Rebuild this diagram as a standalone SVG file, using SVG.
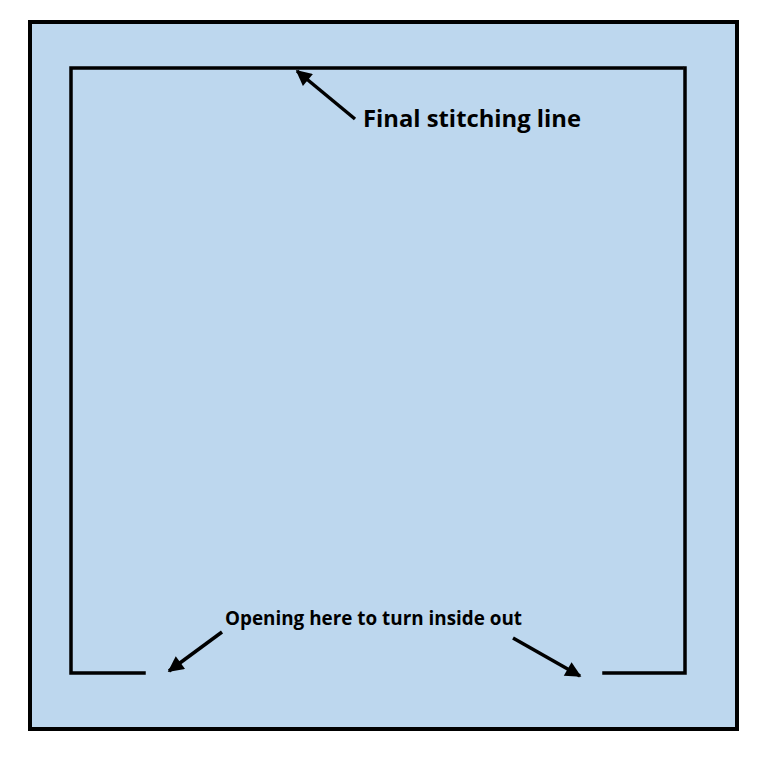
<svg xmlns="http://www.w3.org/2000/svg" width="766" height="761" viewBox="0 0 766 761">
<style>
.seam{fill:none;stroke:#000;stroke-width:3.5;stroke-linecap:square}
.arr{fill:none;stroke:#000;stroke-width:3.5;marker-end:url(#ah)}
.lbl{font-family:"Open Sans","Liberation Sans",sans-serif;font-weight:bold;fill:#000}
</style>
<defs>
<marker id="ah" viewBox="0 0 10 10" refX="9" refY="5" markerWidth="5" markerHeight="4.5" orient="auto" markerUnits="strokeWidth">
<path d="M0,0 L10,5 L0,10 Z" fill="#000"/>
</marker>
</defs>
<rect x="0" y="0" width="766" height="761" fill="#fff"/>
<g id="panel">
<rect x="30" y="22" width="707" height="707" fill="#BDD7EE" stroke="#000" stroke-width="4"/>
</g>
<g id="stitching">
<polyline class="seam" points="144,673 71,673 71,68 682,68"/>
<polyline class="seam" points="685,68 685,673 604,673"/>
</g>
<g id="connectors">
<line class="arr" x1="355" y1="119" x2="297" y2="71"/>
<line class="arr" x1="222" y1="632" x2="169" y2="671"/>
<line class="arr" x1="513" y1="638" x2="580" y2="676"/>
</g>
<g id="label-top">
<text class="lbl" x="363" y="127" font-size="23" textLength="218" lengthAdjust="spacingAndGlyphs">Final stitching line</text>
</g>
<g id="label-bottom">
<text class="lbl" x="225" y="625" font-size="19.5" textLength="297" lengthAdjust="spacingAndGlyphs">Opening here to turn inside out</text>
</g>
</svg>
